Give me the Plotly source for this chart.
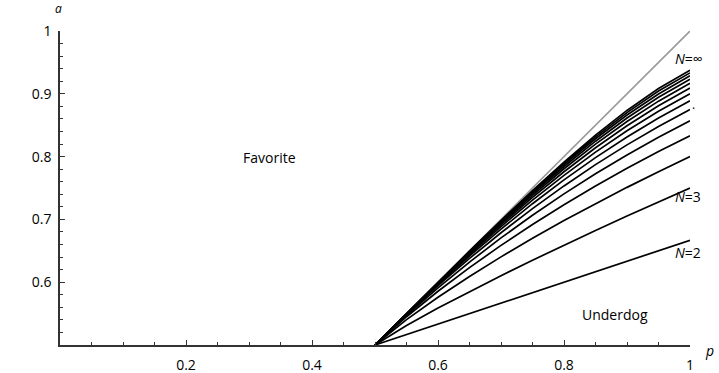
import plotly.graph_objects as go

# p grid on which the curves were read
p_values = [0.5, 0.55, 0.6, 0.65, 0.7, 0.75, 0.8, 0.85, 0.9, 0.95, 1.0]

N_values = [2, 3, 4, 5, 6, 7, 8, 9, 10, 11, 12, 13, 14, 15]
a_N2 = [0.5, 0.5167, 0.5333, 0.55, 0.5667, 0.5833, 0.6, 0.6167, 0.6333, 0.65, 0.6667]
a_N3 = [0.5, 0.531, 0.5588, 0.5851, 0.6104, 0.635, 0.6589, 0.6823, 0.7053, 0.7278, 0.75]
a_N4 = [0.5, 0.5404, 0.5761, 0.6092, 0.6403, 0.6699, 0.6981, 0.7251, 0.751, 0.776, 0.8]
a_N5 = [0.5, 0.545, 0.5856, 0.6233, 0.6586, 0.6919, 0.7233, 0.7531, 0.7813, 0.808, 0.8333]
a_N6 = [0.5, 0.5473, 0.591, 0.632, 0.6705, 0.7066, 0.7407, 0.7727, 0.8027, 0.8308, 0.8571]
a_N7 = [0.5, 0.5485, 0.5944, 0.6378, 0.6787, 0.7172, 0.7533, 0.7872, 0.8187, 0.848, 0.875]
a_N8 = [0.5, 0.5492, 0.5965, 0.6417, 0.6845, 0.725, 0.7629, 0.7984, 0.8312, 0.8614, 0.8889]
a_N9 = [0.5, 0.5496, 0.5978, 0.6442, 0.6886, 0.7307, 0.7702, 0.8071, 0.8411, 0.8721, 0.9]
a_N10 = [0.5, 0.5498, 0.5986, 0.646, 0.6916, 0.735, 0.7759, 0.814, 0.8491, 0.8809, 0.9091]
a_N11 = [0.5, 0.5499, 0.5991, 0.6473, 0.6939, 0.7384, 0.7806, 0.8198, 0.8559, 0.8883, 0.9167]
a_N12 = [0.5, 0.5499, 0.5995, 0.6482, 0.6955, 0.741, 0.7842, 0.8245, 0.8615, 0.8945, 0.9231]
a_N13 = [0.5, 0.55, 0.5997, 0.6487, 0.6967, 0.743, 0.7871, 0.8284, 0.8662, 0.8998, 0.9286]
a_N14 = [0.5, 0.55, 0.5998, 0.6491, 0.6975, 0.7445, 0.7894, 0.8315, 0.8701, 0.9044, 0.9333]
a_N15 = [0.5, 0.55, 0.5999, 0.6494, 0.6982, 0.7457, 0.7912, 0.8342, 0.8735, 0.9083, 0.9375]
a_curves = [a_N2, a_N3, a_N4, a_N5, a_N6, a_N7, a_N8, a_N9, a_N10,
            a_N11, a_N12, a_N13, a_N14, a_N15]

# N = infinity limit
p_inf = [0.5, 1.0]
a_inf = [0.5, 1.0]

x_tickvals = [0.2, 0.4, 0.6, 0.8, 1.0]
x_ticktext = ["0.2", "0.4", "0.6", "0.8", "1"]
y_tickvals = [0.6, 0.7, 0.8, 0.9, 1.0]
y_ticktext = ["0.6", "0.7", "0.8", "0.9", "1"]

FONT = "Open Sans"

fig = go.Figure()
fig.add_trace(go.Scatter(x=p_inf, y=a_inf, mode="lines",
                         line=dict(color="#9a9a9a", width=1.6),
                         showlegend=False, hoverinfo="skip"))
for n, a in zip(N_values, a_curves):
    fig.add_trace(go.Scatter(x=p_values, y=a, mode="lines", name=f"N={n}",
                             line=dict(color="black", width=1.7),
                             showlegend=False))

fig.update_layout(
    width=719, height=373,
    margin=dict(l=60, r=29, t=31, b=28),
    paper_bgcolor="white", plot_bgcolor="white",
    font=dict(family=FONT, size=14, color="black"),
    xaxis=dict(range=[0, 1], showgrid=False, zeroline=False, automargin=False,
               showline=True, linecolor="#333", linewidth=1.5,
               ticks="inside", ticklen=5, tickcolor="#333", tickwidth=1,
               tickvals=x_tickvals, ticktext=x_ticktext,
               ticklabelstandoff=6,
               minor=dict(dtick=0.05, tick0=0, ticks="inside", ticklen=3,
                          tickcolor="#333", showgrid=False)),
    yaxis=dict(range=[0.5, 1], showgrid=False, zeroline=False, automargin=False,
               showline=True, linecolor="#333", linewidth=1.5,
               ticks="inside", ticklen=5, tickcolor="#333", tickwidth=1,
               tickvals=y_tickvals, ticktext=y_ticktext,
               ticklabelstandoff=4,
               minor=dict(dtick=0.02, tick0=0.5, ticks="inside", ticklen=3,
                          tickcolor="#333", showgrid=False)),
)

ann = [
    dict(x=0, y=1.0, xref="x", yref="y", text="<i>a</i>", showarrow=False,
         xanchor="center", yanchor="middle", xshift=-2, yshift=23, font=dict(size=12)),
    dict(x=1.0, y=0.5, xref="x", yref="y", text="<i>p</i>", showarrow=False,
         xanchor="left", yanchor="middle", xshift=13, yshift=-5, font=dict(size=14)),
    dict(x=0.973, y=0.957, xref="x", yref="y", text="<i>N</i>=∞", showarrow=False,
         xanchor="left", yanchor="middle", font=dict(size=14)),
    dict(x=0.973, y=0.736, xref="x", yref="y", text="<i>N</i>=3", showarrow=False,
         xanchor="left", yanchor="middle", font=dict(size=14)),
    dict(x=0.973, y=0.648, xref="x", yref="y", text="<i>N</i>=2", showarrow=False,
         xanchor="left", yanchor="middle", font=dict(size=14)),
    dict(x=0.333, y=0.798, xref="x", yref="y", text="Favorite", showarrow=False,
         xanchor="center", yanchor="middle", font=dict(size=14)),
    dict(x=0.881, y=0.548, xref="x", yref="y", text="Underdog", showarrow=False,
         xanchor="center", yanchor="middle", font=dict(size=14)),
    dict(x=1.0, y=0.876, xref="x", yref="y", text="·", showarrow=False,
         xanchor="left", yanchor="middle", xshift=0, font=dict(size=12)),
]
fig.update_layout(annotations=ann)

fig.write_html("out.html")
